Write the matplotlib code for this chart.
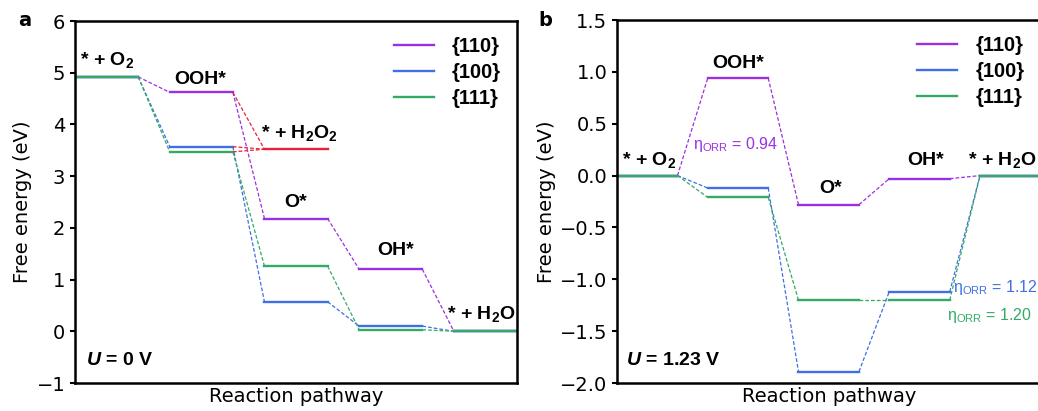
import matplotlib
matplotlib.use("Agg")
import matplotlib.pyplot as plt

plt.rcParams['font.family'] = 'DejaVu Sans'
plt.rcParams['mathtext.fontset'] = 'custom'
plt.rcParams['mathtext.it'] = 'Liberation Sans:italic:bold'
plt.rcParams['mathtext.rm'] = 'Liberation Sans'

# free energies (eV) for * + O2, OOH*, O*, OH*, * + H2O
facets = ["{110}", "{100}", "{111}"]
colors = ["#9b30e0", "#3f6fe3", "#33aa66"]

g_u0_110 = [4.92, 4.62, 2.18, 1.20, 0.00]
g_u0_100 = [4.92, 3.57, 0.57, 0.10, 0.00]
g_u0_111 = [4.92, 3.47, 1.26, 0.03, 0.00]
g_h2o2 = 3.52

g_u123_110 = [0.00, 0.94, -0.28, -0.03, 0.00]
g_u123_100 = [0.00, -0.12, -1.89, -1.12, 0.00]
g_u123_111 = [0.00, -0.21, -1.20, -1.20, 0.00]

eta_orr = [0.94, 1.12, 1.20]

LAB = dict(family='Liberation Sans', fontweight='bold', fontsize=14)


def draw_profile(ax, levels, color, label):
    for k, g in enumerate(levels):
        ax.plot([3*k, 3*k+2], [g, g], color=color, lw=1.7,
                label=label if k == 0 else None)
        if k < len(levels) - 1:
            ax.plot([3*k+2, 3*k+3], [g, levels[k+1]], color=color, lw=0.9,
                    ls=(0, (3, 1.6)))


def style_axes(ax):
    ax.set_xlim(0, 14)
    ax.set_xticks([])
    for s in ax.spines.values():
        s.set_linewidth(1.8)
    ax.tick_params(axis='y', labelsize=14, width=1.5)
    ax.set_ylabel("Free energy (eV)", fontsize=14, labelpad=3)
    ax.set_xlabel("Reaction pathway", fontsize=14, labelpad=3)
    ax.legend(loc='upper right', frameon=False, handlelength=2.0,
              labelspacing=0.35, borderaxespad=0.4, handletextpad=0.9,
              prop=dict(family='Liberation Sans', weight='bold', size=14.5))


fig = plt.figure(figsize=(10.38, 4.11), dpi=100)
ax1 = fig.add_axes([0.0723, 0.0681, 0.4258, 0.8808])
ax2 = fig.add_axes([0.5944, 0.0681, 0.4080, 0.8832])

# panel a
for g, c, f in zip([g_u0_110, g_u0_100, g_u0_111], colors, facets):
    draw_profile(ax1, g, c, f)
for g in [g_u0_110, g_u0_100, g_u0_111]:
    ax1.plot([5, 6], [g[1], g_h2o2], color="#e8203a", lw=0.9, ls=(0, (3, 1.6)))
ax1.plot([6, 8], [g_h2o2, g_h2o2], color="#e8203a", lw=1.7)
ax1.set_ylim(-1, 6)
ax1.set_yticks(range(-1, 7))
style_axes(ax1)

ax1.text(1.0, 5.25, "* + O$_\\mathregular{2}$", ha='center', va='center', **LAB)
ax1.text(3.95, 4.86, "OOH*", ha='center', va='center', **LAB)
ax1.text(7.1, 3.83, "* + H$_\\mathregular{2}$O$_\\mathregular{2}$", ha='center', va='center', **LAB)
ax1.text(7.0, 2.5, "O*", ha='center', va='center', **LAB)
ax1.text(10.15, 1.57, "OH*", ha='center', va='center', **LAB)
ax1.text(12.85, 0.34, "* + H$_\\mathregular{2}$O", ha='center', va='center', **LAB)
ax1.text(0.35, -0.56, "$U$ = 0 V", ha='left', va='center', **LAB)

# panel b
for g, c, f in zip([g_u123_110, g_u123_100, g_u123_111], colors, facets):
    draw_profile(ax2, g, c, f)
ax2.set_ylim(-2, 1.5)
ax2.set_yticks([-2.0, -1.5, -1.0, -0.5, 0.0, 0.5, 1.0, 1.5])
style_axes(ax2)

ax2.text(1.05, 0.15, "* + O$_\\mathregular{2}$", ha='center', va='center', **LAB)
ax2.text(4.0, 1.08, "OOH*", ha='center', va='center', **LAB)
ax2.text(7.05, -0.12, "O*", ha='center', va='center', **LAB)
ax2.text(10.2, 0.15, "OH*", ha='center', va='center', **LAB)
ax2.text(12.75, 0.15, "* + H$_\\mathregular{2}$O", ha='center', va='center', **LAB)
ax2.text(0.3, -1.78, "$U$ = 1.23 V", ha='left', va='center', **LAB)

eta_pos = [(2.5, 0.3), (11.12, -1.075), (10.9, -1.345)]
for e, c, (x, y) in zip(eta_orr, colors, eta_pos):
    ax2.text(x, y, "η$_\\mathregular{ORR}$ = %.2f" % e, color=c, ha='left',
             va='center', family='Liberation Sans', fontsize=11.5)

fig.text(0.024, 0.95, "a", fontweight='bold', fontsize=14, ha='center', va='center')
fig.text(0.525, 0.95, "b", fontweight='bold', fontsize=14, ha='center', va='center')

fig.savefig("out.png", dpi=100)
